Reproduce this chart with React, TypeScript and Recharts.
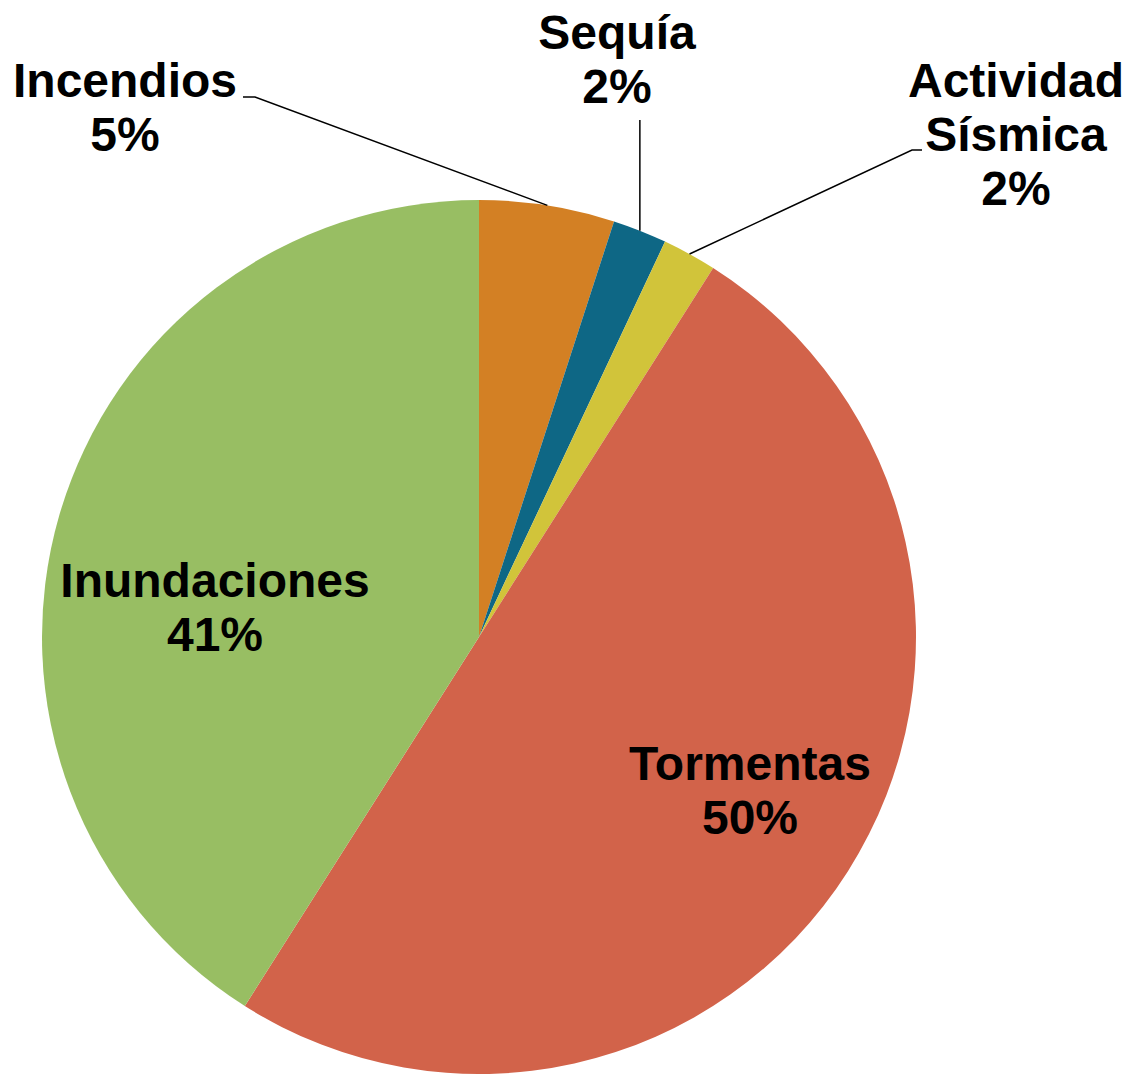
import React from 'react';
import { PieChart, Pie, Cell } from 'recharts';

const categories = ['Incendios', 'Sequía', 'Actividad Sísmica', 'Tormentas', 'Inundaciones'];
const shares = [5, 2, 2, 50, 41];
const colors = ['#D38024', '#0E6785', '#D1C43A', '#D2634A', '#98BE63'];

const data = categories.map((name, i) => ({ name, value: shares[i] }));

// label placement relative to the pie centre (px); leader lines go from the slice edge
const labelLayout: Record<string, { x: number; y: number; lines: string[]; leader?: [number, number][] }> = {
  Incendios: { x: -354, y: -540, lines: ['Incendios'], leader: [[-224, -540], [-236, -540]] },
  'Sequía': { x: 138, y: -588, lines: ['Sequía'], leader: [[160, -517]] },
  'Actividad Sísmica': { x: 537, y: -540, lines: ['Actividad', 'Sísmica'], leader: [[433, -487], [443, -487]] },
  Tormentas: { x: 271, y: 143, lines: ['Tormentas'] },
  Inundaciones: { x: -264, y: -40, lines: ['Inundaciones'] },
};

const RADIAN = Math.PI / 180;
const LINE_H = 54;

const renderLabel = (props: any) => {
  const { cx, cy, midAngle, outerRadius, name, percent } = props;
  const layout = labelLayout[name];
  if (!layout) return null;
  const sx = cx + outerRadius * Math.cos(-midAngle * RADIAN);
  const sy = cy + outerRadius * Math.sin(-midAngle * RADIAN);
  const lines = [...layout.lines, `${Math.round(percent * 100)}%`];
  let points = '';
  if (layout.leader) {
    const pts = [[sx, sy], ...layout.leader.map(([dx, dy], i) => [
      i === 0 && layout.leader!.length === 1 ? sx : cx + dx,
      cy + dy,
    ])];
    points = pts.map((p) => p.join(',')).join(' ');
  }
  return (
    <g>
      {points && <polyline points={points} fill="none" stroke="#000" strokeWidth={1.5} />}
      <text
        x={cx + layout.x}
        y={cy + layout.y}
        textAnchor="middle"
        fill="#000"
        fontFamily="'Liberation Sans', Arial, sans-serif"
        fontWeight="bold"
        fontSize={48}
      >
        {lines.map((l, i) => (
          <tspan key={i} x={cx + layout.x} y={cy + layout.y + i * LINE_H}>
            {l}
          </tspan>
        ))}
      </text>
    </g>
  );
};

export default function App() {
  return (
    <div style={{ position: 'absolute', left: 0, top: 0, width: 1128, height: 1074, background: '#fff' }}>
      <PieChart width={1128} height={1074} margin={{ top: 0, right: 0, bottom: 0, left: 0 }}>
        <Pie
          data={data}
          dataKey="value"
          nameKey="name"
          cx={479}
          cy={637}
          outerRadius={437}
          startAngle={90}
          endAngle={-270}
          stroke="none"
          label={renderLabel}
          labelLine={false}
          isAnimationActive={false}
        >
          {data.map((d, i) => (
            <Cell key={d.name} fill={colors[i]} />
          ))}
        </Pie>
      </PieChart>
    </div>
  );
}
